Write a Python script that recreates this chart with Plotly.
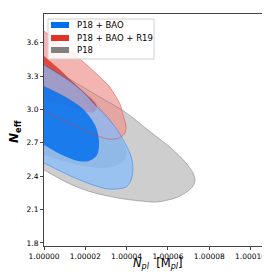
import plotly.graph_objects as go

# ---- data ----
# P18 (grey) 2-sigma and 1-sigma contour boundaries
p18_2s_x = [0.999995, 1.0, 1.00001162, 1.00002615, 1.00003923, 1.00005036, 1.00006150, 1.00006877,
            1.00007215, 1.00007312, 1.00007215, 1.00006973, 1.00006489, 1.00006005, 1.00005424,
            1.00004697, 1.00003584, 1.00002131, 1.00001162, 1.0, 0.999995]
p18_2s_y = [3.475, 3.417, 3.282, 3.120, 2.977, 2.815, 2.653, 2.519, 2.429, 2.366, 2.312, 2.267,
            2.213, 2.186, 2.168, 2.177, 2.204, 2.267, 2.339, 2.456, 2.506]
p18_1s_x = [0.999995, 1.0, 1.00001162, 1.00002324, 1.00003148, 1.00003680, 1.00003971, 1.00003923,
            1.00003584, 1.00002857, 1.00001889, 1.00000920, 1.0, 0.999995]
p18_1s_y = [3.444, 3.390, 3.264, 3.102, 2.923, 2.761, 2.635, 2.554, 2.501, 2.474, 2.492, 2.537,
            2.590, 2.619]

# P18 + BAO + R19 (red)
r19_2s_x = [0.999995, 1.0, 1.00000678, 1.00001501, 1.00002131, 1.00002760, 1.00003148, 1.00003438,
            1.00003680, 1.00003826, 1.00003971, 1.00003923, 1.00003729, 1.00003438, 1.00003099,
            1.00002615, 1.00002131, 1.00001501, 1.00000678, 1.0, 0.999995]
r19_2s_y = [3.777, 3.704, 3.605, 3.489, 3.390, 3.282, 3.210, 3.129, 3.048, 2.950, 2.851, 2.788,
            2.752, 2.734, 2.734, 2.761, 2.797, 2.851, 2.923, 2.986, 3.032]
r19_1s_x = [0.999995, 1.0, 1.00000678, 1.00001501, 1.00002131, 1.00002470, 1.00002567, 1.00002421,
            1.00002034, 1.00001162, 1.0, 0.999995]
r19_1s_y = [3.560, 3.480, 3.372, 3.228, 3.120, 3.057, 3.013, 2.977, 2.977, 3.031, 3.084, 3.107]

# P18 + BAO (blue)
bao_2s_x = [0.999995, 1.0, 1.00001162, 1.00001889, 1.00002518, 1.00003099, 1.00003584, 1.00003971,
            1.00004213, 1.00004310, 1.00004213, 1.00003971, 1.00003487, 1.00003099, 1.00002373,
            1.00001501, 1.00000678, 1.0, 0.999995]
bao_2s_y = [3.457, 3.399, 3.264, 3.156, 3.031, 2.923, 2.806, 2.680, 2.581, 2.474, 2.366, 2.303,
            2.285, 2.285, 2.321, 2.384, 2.456, 2.519, 2.565]
bao_1s_x = [0.999995, 1.0, 1.00000872, 1.00001840, 1.00002470, 1.00002663, 1.00002567, 1.00002179,
            1.00001646, 1.00000872, 1.0, 0.999995]
bao_1s_y = [3.256, 3.210, 3.129, 3.013, 2.860, 2.716, 2.590, 2.537, 2.537, 2.590, 2.680, 2.732]

legend_labels = ["P18 + BAO", "P18 + BAO + R19", "P18"]
legend_colors = ["#006FED", "#E03424", "#808080"]

x_ticks = [1.00000, 1.00002, 1.00004, 1.00006, 1.00008, 1.00010]
y_ticks = [1.8, 2.1, 2.4, 2.7, 3.0, 3.3, 3.6]

fig = go.Figure()

def contour(x, y, fill):
    fig.add_trace(go.Scatter(x=x, y=y, mode="lines", fill="toself", fillcolor=fill,
                             line=dict(width=0, shape="spline", smoothing=0.9),
                             hoverinfo="skip", showlegend=False))

def edge(x, y, color, w=0.8):
    fig.add_trace(go.Scatter(x=x, y=y, mode="lines",
                             line=dict(width=w, color=color, shape="spline", smoothing=0.9),
                             hoverinfo="skip", showlegend=False))

contour(p18_2s_x, p18_2s_y, "rgba(190,190,190,0.75)")
contour(p18_1s_x, p18_1s_y, "rgba(150,150,150,0.6)")
contour(r19_2s_x, r19_2s_y, "rgba(240,150,145,0.7)")
contour(r19_1s_x, r19_1s_y, "rgba(224,52,36,0.85)")
contour(bao_2s_x, bao_2s_y, "rgba(135,190,255,0.72)")
contour(bao_1s_x, bao_1s_y, "rgba(0,111,237,0.82)")

edge(p18_2s_x, p18_2s_y, "rgba(128,128,128,0.7)")
edge(r19_2s_x, r19_2s_y, "rgba(224,52,36,0.55)")
edge(bao_2s_x, bao_2s_y, "rgba(0,111,237,0.5)")

axis_common = dict(showline=True, linecolor="#444", linewidth=1, mirror=True,
                   ticks="outside", ticklen=3, tickwidth=1, tickcolor="#444",
                   showgrid=False, zeroline=False,
                   tickfont=dict(family="DejaVu Sans", size=7.5, color="black"))

fig.update_xaxes(range=[1.0, 1.00010993], tickvals=x_ticks, tickformat=".5f", **axis_common)
fig.update_yaxes(range=[1.773, 3.857], tickvals=y_ticks, tickformat=".1f", **axis_common)

# legend drawn manually
px2x = lambda px: (px - 36) / 227
py2y = lambda py: (238 - py) / 232
shapes = [dict(type="rect", xref="paper", yref="paper", x0=px2x(40), x1=px2x(146),
               y0=py2y(51), y1=py2y(11), line=dict(color="#d0d0d0", width=1),
               fillcolor="rgba(255,255,255,0.85)", layer="above")]
annotations = []
rows = [17, 30, 42]
for lab, col, yc in zip(legend_labels, legend_colors, rows):
    shapes.append(dict(type="rect", xref="paper", yref="paper", x0=px2x(43), x1=px2x(61),
                       y0=py2y(yc + 3), y1=py2y(yc - 3), line=dict(width=0),
                       fillcolor=col, layer="above"))
    annotations.append(dict(text=lab, xref="paper", yref="paper", x=px2x(67), y=py2y(yc),
                            xanchor="left", yanchor="middle", showarrow=False,
                            font=dict(family="DejaVu Sans", size=8.5, color="black")))

annotations.append(dict(text="<i>N</i><sub><i>pl</i></sub>  [M<sub><i>pl</i></sub>]",
                        xref="paper", yref="paper", x=px2x(150), y=py2y(255),
                        xanchor="center", yanchor="middle", showarrow=False,
                        font=dict(family="DejaVu Sans", size=11.5, color="black")))
annotations.append(dict(text="<b><i>N</i></b><sub><b>eff</b></sub>",
                        xref="paper", yref="paper", x=px2x(7), y=py2y(124),
                        xanchor="center", yanchor="middle", showarrow=False, textangle=-90,
                        font=dict(family="DejaVu Sans", size=12, color="black")))

fig.update_layout(width=270, height=274, margin=dict(l=36, r=7, t=6, b=36),
                  paper_bgcolor="white", plot_bgcolor="white",
                  shapes=shapes, annotations=annotations, showlegend=False)

fig.write_html("out.html")
